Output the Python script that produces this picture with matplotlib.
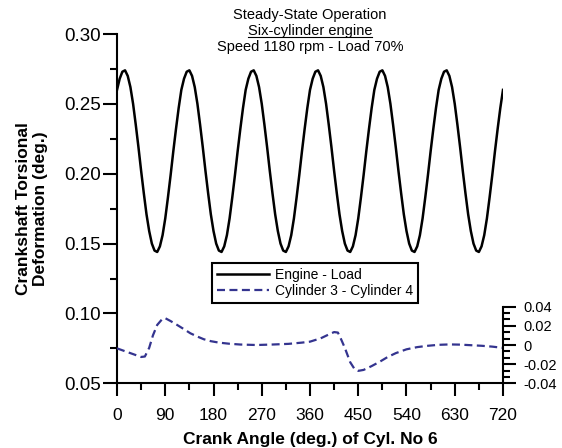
import numpy as np
import matplotlib
matplotlib.use("Agg")
import matplotlib.pyplot as plt
from matplotlib.lines import Line2D
from matplotlib.ticker import MultipleLocator, FixedLocator

plt.rcParams['font.family'] = ['Liberation Sans', 'DejaVu Sans']
plt.rcParams['axes.unicode_minus'] = False

# Engine - Load torsional deformation (deg.), read every 5 deg of crank angle
angle = np.arange(0, 721, 5)
engine_load = [
    0.260, 0.268, 0.273, 0.274, 0.270, 0.262, 0.250, 0.235, 0.219, 0.202, 0.186, 0.171,
    0.159, 0.150, 0.145, 0.144, 0.148, 0.156, 0.168, 0.183, 0.199, 0.216, 0.232, 0.247,
    0.260, 0.268, 0.273, 0.274, 0.270, 0.262, 0.250, 0.235, 0.219, 0.202, 0.186, 0.171,
    0.159, 0.150, 0.145, 0.144, 0.148, 0.156, 0.168, 0.183, 0.199, 0.216, 0.232, 0.247,
    0.260, 0.268, 0.273, 0.274, 0.270, 0.262, 0.250, 0.235, 0.219, 0.202, 0.186, 0.171,
    0.159, 0.150, 0.145, 0.144, 0.148, 0.156, 0.168, 0.183, 0.199, 0.216, 0.232, 0.247,
    0.260, 0.268, 0.273, 0.274, 0.270, 0.262, 0.250, 0.235, 0.219, 0.202, 0.186, 0.171,
    0.159, 0.150, 0.145, 0.144, 0.148, 0.156, 0.168, 0.183, 0.199, 0.216, 0.232, 0.247,
    0.260, 0.268, 0.273, 0.274, 0.270, 0.262, 0.250, 0.235, 0.219, 0.202, 0.186, 0.171,
    0.159, 0.150, 0.145, 0.144, 0.148, 0.156, 0.168, 0.183, 0.199, 0.216, 0.232, 0.247,
    0.260, 0.268, 0.273, 0.274, 0.270, 0.262, 0.250, 0.235, 0.219, 0.202, 0.186, 0.171,
    0.159, 0.150, 0.145, 0.144, 0.148, 0.156, 0.168, 0.183, 0.199, 0.216, 0.232, 0.247,
    0.260,
]

# Cylinder 3 - Cylinder 4 (right axis)
cyl_angle = [0, 15, 30, 45, 52, 60, 67, 75, 85, 90, 100, 112, 125, 137, 150, 162, 175,
             190, 210, 230, 260, 290, 320, 345, 360, 380, 395, 405, 412, 418, 425, 435,
             443, 450, 460, 475, 490, 505, 520, 540, 560, 580, 600, 620, 640, 660, 680,
             700, 720]
cyl_diff = [-0.0035, -0.0065, -0.0095, -0.0125, -0.012, -0.003, 0.010, 0.021, 0.0275,
            0.028, 0.025, 0.021, 0.0165, 0.0122, 0.0088, 0.006, 0.004, 0.0025, 0.0013,
            0.0005, 0.0, 0.0005, 0.0012, 0.0025, 0.0035, 0.007, 0.011, 0.0135, 0.013,
            0.006, -0.003, -0.018, -0.025, -0.027, -0.026, -0.022, -0.0175, -0.0125,
            -0.0085, -0.0045, -0.0022, -0.0008, 0.0002, 0.0006, 0.0004, -0.0002, -0.0008,
            -0.0017, -0.003]

x_ticks = [0, 90, 180, 270, 360, 450, 540, 630, 720]
y_ticks = [0.05, 0.10, 0.15, 0.20, 0.25, 0.30]
y2_ticks = [-0.04, -0.02, 0, 0.02, 0.04]
y2_labels = ['-0.04', '-0.02', '0', '0.02', '0.04']

fig = plt.figure(figsize=(5.62, 4.48), dpi=100)
ax = fig.add_axes([0.2082, 0.1444, 0.6868, 0.7797])

eng, = ax.plot(angle, engine_load, color='black', lw=1.8, label='Engine - Load')
ax.set_xlim(0, 720)
ax.set_ylim(0.05, 0.30)
ax.set_xticks(x_ticks)
ax.set_yticks(y_ticks)
ax.set_yticklabels([f'{v:.2f}' for v in y_ticks])
ax.xaxis.set_minor_locator(MultipleLocator(45))
ax.yaxis.set_minor_locator(MultipleLocator(0.025))
for s in ['top', 'right']:
    ax.spines[s].set_visible(False)
for s in ['left', 'bottom']:
    ax.spines[s].set_linewidth(1.5)
ax.tick_params(axis='x', which='major', direction='out', length=9, width=1.5, pad=8.5, labelsize=12.5)
ax.tick_params(axis='y', which='major', direction='out', length=10, width=1.5, pad=1.5, labelsize=13.5)
ax.tick_params(which='minor', direction='out', length=5, width=1.5)
ax.set_xlabel('Crank Angle (deg.) of Cyl. No 6', fontsize=12.5, fontweight='bold', labelpad=6.5)

# right axis for the cylinder difference
ax2 = ax.twinx()
cyl, = ax2.plot(cyl_angle, cyl_diff, color='#34348f', lw=1.6, dashes=(3.6, 2.0),
                label='Cylinder 3 - Cylinder 4')
ax2.set_ylim(-0.04, 0.3248)
for s in ['top', 'left', 'bottom']:
    ax2.spines[s].set_visible(False)
ax2.spines['right'].set_bounds(-0.04, 0.04)
ax2.spines['right'].set_linewidth(1.5)
ax2.set_yticks(y2_ticks)
ax2.set_yticklabels(y2_labels)
minor2 = [v for v in np.linspace(-0.04, 0.04, 13) if not np.any(np.isclose(v, y2_ticks))]
ax2.yaxis.set_minor_locator(FixedLocator(minor2))
ax2.tick_params(axis='y', which='major', direction='out', length=9, width=1.5, pad=6, labelsize=10.5)
ax2.tick_params(axis='y', which='minor', direction='out', length=5, width=1.5)

leg = ax2.legend(handles=[eng, cyl], loc='upper left',
                 bbox_to_anchor=(211.7 / 562, 1 - 263.3 / 448), bbox_transform=fig.transFigure,
                 borderaxespad=0, fontsize=10, frameon=True, fancybox=False,
                 edgecolor='black', framealpha=1, handlelength=3.8, handletextpad=0.4,
                 borderpad=0.35, labelspacing=0.15)
leg.get_frame().set_linewidth(1.5)

fig.text(32 / 562, 1 - 208.5 / 448, 'Crankshaft Torsional\nDeformation (deg.)',
         rotation=90, ha='center', va='center', multialignment='center',
         fontsize=12.5, fontweight='bold', linespacing=1.15)

cx = 310 / 562
fig.text(cx, 1 - 15.5 / 448, 'Steady-State Operation', ha='center', va='center', fontsize=10.5)
sub = fig.text(cx, 1 - 31.5 / 448, 'Six-cylinder engine', ha='center', va='center', fontsize=10.5)
fig.text(cx, 1 - 47.5 / 448, 'Speed 1180 rpm - Load 70%', ha='center', va='center', fontsize=10.5)

# underline the engine line of the title
fig.canvas.draw()
bb = sub.get_window_extent().transformed(fig.transFigure.inverted())
fig.add_artist(Line2D([bb.x0, bb.x1], [bb.y0 + 0.004, bb.y0 + 0.004],
                      transform=fig.transFigure, color='black', lw=0.8))

fig.savefig('out.png', dpi=100)
